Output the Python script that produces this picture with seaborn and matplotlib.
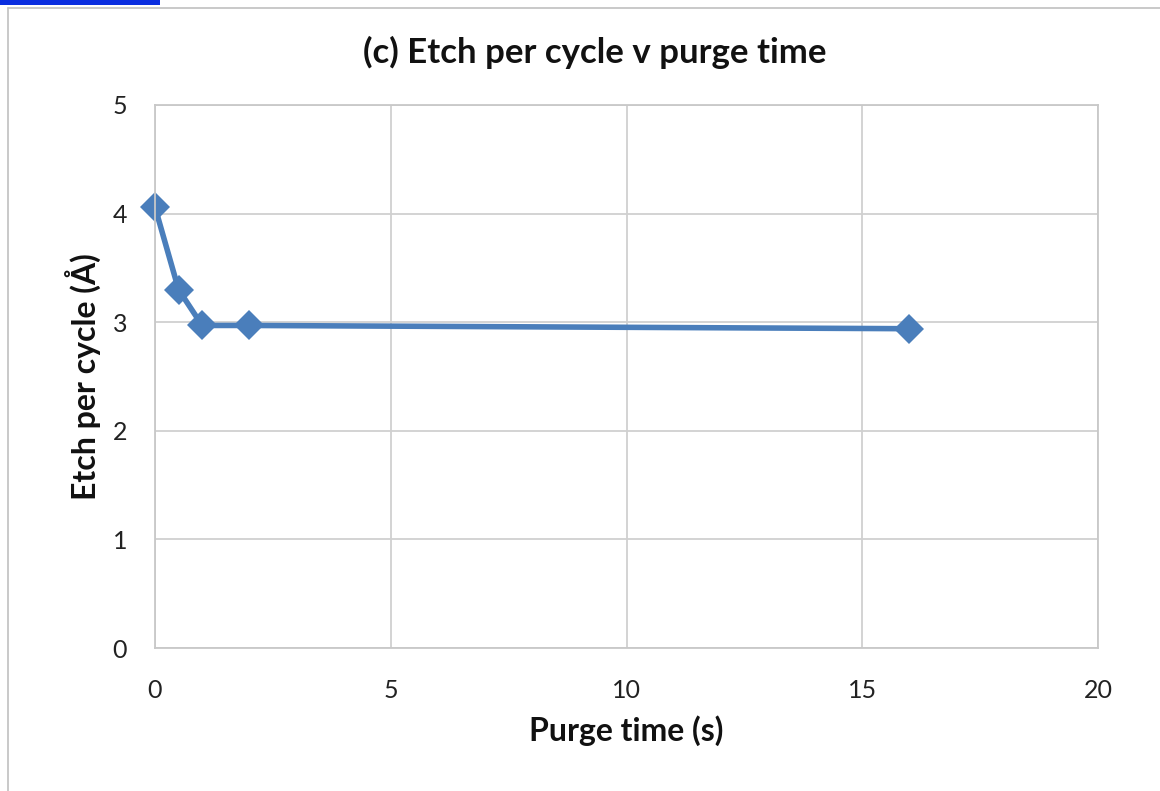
import matplotlib
matplotlib.use("Agg")
import matplotlib.pyplot as plt
import seaborn as sns
import pandas as pd
from matplotlib.patches import Rectangle
from matplotlib.lines import Line2D

purge_time = [0, 0.5, 1, 2, 16]
etch_per_cycle = [4.06, 3.30, 2.97, 2.97, 2.94]
x_ticks = [0, 5, 10, 15, 20]
y_ticks = [0, 1, 2, 3, 4, 5]
title = "(c) Etch per cycle v purge time"
x_label = "Purge time (s)"
y_label = "Etch per cycle (Å)"

sns.set_theme(style="white")
plt.rcParams['font.family'] = ['Lato', 'DejaVu Sans']

fig = plt.figure(figsize=(11.6, 7.91), dpi=100)
ax = fig.add_axes([155/1160, 1-648/791, (1098-155)/1160, (648-105)/791])

df = pd.DataFrame({"x": purge_time, "y": etch_per_cycle})
sns.lineplot(data=df, x="x", y="y", ax=ax, color="#4a7ebb", linewidth=4,
             marker="D", markersize=15, markeredgewidth=0, sort=False)
for ln in ax.lines:
    ln.set_clip_on(False)

ax.set_xlim(0, 20)
ax.set_ylim(0, 5)
ax.set_xticks(x_ticks)
ax.set_yticks(y_ticks)
ax.grid(True, color="#d0d0d0", linewidth=1.3)
ax.set_axisbelow(True)
for s in ax.spines.values():
    s.set_color("#c8c8c8")
    s.set_linewidth(1.3)
ax.tick_params(axis="both", length=0, labelsize=18, colors="#222222")
ax.tick_params(axis="x", pad=22)
ax.tick_params(axis="y", pad=20)

ax.set_xlabel(x_label, fontsize=23, fontweight="bold", color="#111111", labelpad=10)
ax.set_ylabel(y_label, fontsize=23, fontweight="bold", color="#111111", labelpad=8)
fig.text(595/1160, 1-52/791, title, ha="center", va="center",
         fontsize=25, fontweight="bold", color="#111111")

# outer frame lines and top blue bar
fig.add_artist(Line2D([8/1160, 8/1160], [0, 1-8/791], color="#c0c0c0", linewidth=1.2,
                      transform=fig.transFigure))
fig.add_artist(Line2D([8/1160, 1], [1-8/791, 1-8/791], color="#c0c0c0", linewidth=1.2,
                      transform=fig.transFigure))
fig.add_artist(Rectangle((0, 1-5/791), 160/1160, 5/791, transform=fig.transFigure,
                         color="#0a2ee0", linewidth=0))

fig.savefig("out.png", dpi=100)
